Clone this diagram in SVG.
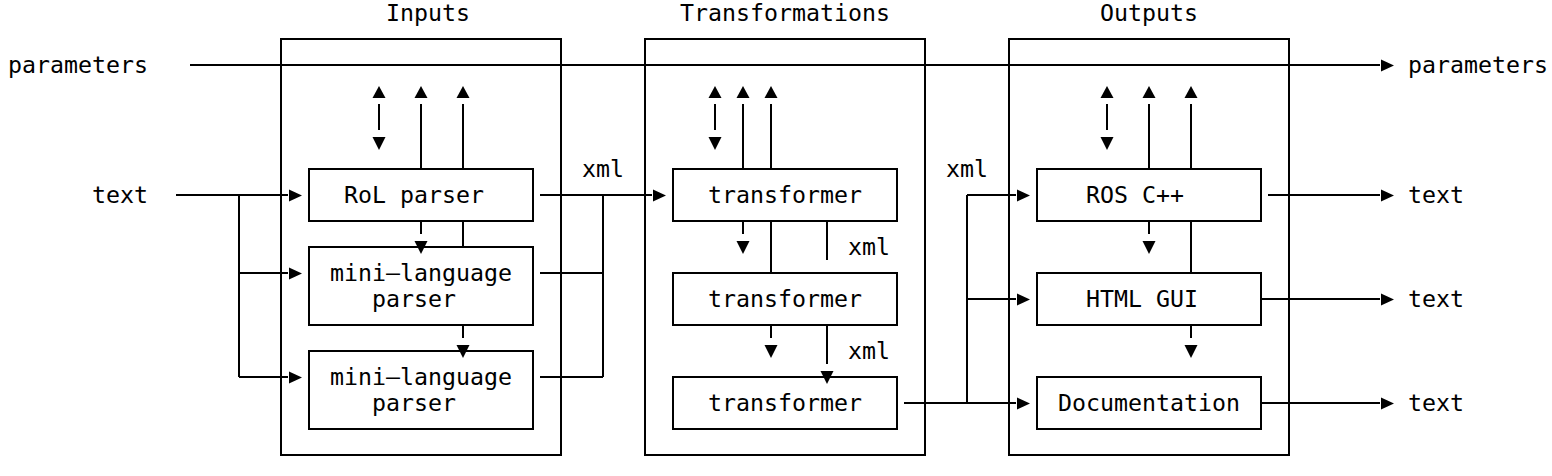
<svg xmlns="http://www.w3.org/2000/svg" xmlns:xlink="http://www.w3.org/1999/xlink" width="1552" height="476" viewBox="0 0 1552 476">
<style>
.box{fill:none;stroke:#000;stroke-width:2}
.ln{fill:none;stroke:#000;stroke-width:2}
.t{font-family:"DejaVu Sans Mono","Liberation Mono",monospace;font-size:23.25px;fill:#000}
.ah{fill:#000}
</style>
<defs>
<path id="up" class="ah" d="M0,-5 L6.5,7 L-6.5,7 Z"/>
<path id="down" class="ah" d="M-6.5,-6 L6.5,-6 L0,7 Z"/>
<path id="right" class="ah" d="M-6,-5.5 L7,0.5 L-6,6.5 Z"/>
</defs>
<rect width="1552" height="476" fill="#fff"/>

<g id="titles">
<text class="t" x="386" y="21">Inputs</text>
<text class="t" x="680" y="21">Transformations</text>
<text class="t" x="1100" y="21">Outputs</text>
</g>

<g id="labels">
<text class="t" x="8" y="73">parameters</text>
<text class="t" x="92" y="203">text</text>
<text class="t" x="582" y="177">xml</text>
<text class="t" x="946" y="177">xml</text>
<text class="t" x="848" y="255">xml</text>
<text class="t" x="848" y="359">xml</text>
<text class="t" x="1408" y="73">parameters</text>
<text class="t" x="1408" y="203">text</text>
<text class="t" x="1408" y="307">text</text>
<text class="t" x="1408" y="411">text</text>
</g>

<g id="inputs"><rect class="box" x="281" y="39" width="280" height="416"/></g>
<g id="transformations"><rect class="box" x="645" y="39" width="280" height="416"/></g>
<g id="outputs"><rect class="box" x="1009" y="39" width="280" height="416"/></g>

<g id="rol-parser"><rect class="box" x="309" y="169" width="224" height="52"/><text class="t" x="344" y="203">RoL parser</text></g>
<g id="mini-parser-1"><rect class="box" x="309" y="247" width="224" height="78"/><text class="t" x="330" y="281">mini–language</text><text class="t" x="372" y="307">parser</text></g>
<g id="mini-parser-2"><rect class="box" x="309" y="351" width="224" height="78"/><text class="t" x="330" y="385">mini–language</text><text class="t" x="372" y="411">parser</text></g>

<g id="transformer-1"><rect class="box" x="673" y="169" width="224" height="52"/><text class="t" x="708" y="203">transformer</text></g>
<g id="transformer-2"><rect class="box" x="673" y="273" width="224" height="52"/><text class="t" x="708" y="307">transformer</text></g>
<g id="transformer-3"><rect class="box" x="673" y="377" width="224" height="52"/><text class="t" x="708" y="411">transformer</text></g>

<g id="ros-cpp"><rect class="box" x="1037" y="169" width="224" height="52"/><text class="t" x="1086" y="203">ROS C++</text></g>
<g id="html-gui"><rect class="box" x="1037" y="273" width="224" height="52"/><text class="t" x="1086" y="307">HTML GUI</text></g>
<g id="documentation"><rect class="box" x="1037" y="377" width="224" height="52"/><text class="t" x="1058" y="411">Documentation</text></g>

<g id="connectors">
<!-- parameters -->
<path class="ln" d="M190,65 H1380"/>
<use xlink:href="#right" x="1387" y="65"/>
<!-- text inputs -->
<path class="ln" d="M176,195 H288 M239,195 V377 M239,273 H288 M239,377 H288"/>
<use xlink:href="#right" x="295" y="195"/>
<use xlink:href="#right" x="295" y="273"/>
<use xlink:href="#right" x="295" y="377"/>
<!-- inputs out -->
<path class="ln" d="M540,195 H652 M603,195 V377 M540,273 H603 M540,377 H603"/>
<use xlink:href="#right" x="659" y="195"/>
<!-- inputs top arrows -->
<path class="ln" d="M379,104 V130 M421,104 V169 M463,104 V169"/>
<use xlink:href="#up" x="379" y="91"/>
<use xlink:href="#down" x="379" y="143"/>
<use xlink:href="#up" x="421" y="91"/>
<use xlink:href="#up" x="463" y="91"/>
<!-- inputs internal -->
<path class="ln" d="M421,221 V234 M463,221 V247 M463,325 V338"/>
<use xlink:href="#down" x="421" y="247"/>
<use xlink:href="#down" x="463" y="351"/>
<!-- transformations top arrows -->
<path class="ln" d="M715,104 V130 M743,104 V169 M771,104 V169"/>
<use xlink:href="#up" x="715" y="91"/>
<use xlink:href="#down" x="715" y="143"/>
<use xlink:href="#up" x="743" y="91"/>
<use xlink:href="#up" x="771" y="91"/>
<!-- transformations internal -->
<path class="ln" d="M743,221 V234 M771,221 V273 M827,221 V260 M771,325 V338 M827,325 V364"/>
<use xlink:href="#down" x="743" y="247"/>
<use xlink:href="#down" x="771" y="351"/>
<use xlink:href="#down" x="827" y="377"/>
<!-- transformations out -->
<path class="ln" d="M904,403 H1016 M967,195 V403 M967,195 H1016 M967,299 H1016"/>
<use xlink:href="#right" x="1023" y="195"/>
<use xlink:href="#right" x="1023" y="299"/>
<use xlink:href="#right" x="1023" y="403"/>
<!-- outputs top arrows -->
<path class="ln" d="M1107,104 V130 M1149,104 V169 M1191,104 V169"/>
<use xlink:href="#up" x="1107" y="91"/>
<use xlink:href="#down" x="1107" y="143"/>
<use xlink:href="#up" x="1149" y="91"/>
<use xlink:href="#up" x="1191" y="91"/>
<!-- outputs internal -->
<path class="ln" d="M1149,221 V234 M1191,221 V273 M1191,325 V338"/>
<use xlink:href="#down" x="1149" y="247"/>
<use xlink:href="#down" x="1191" y="351"/>
<!-- outputs out -->
<path class="ln" d="M1268,195 H1380 M1261,299 H1380 M1261,403 H1380"/>
<use xlink:href="#right" x="1387" y="195"/>
<use xlink:href="#right" x="1387" y="299"/>
<use xlink:href="#right" x="1387" y="403"/>
</g>
</svg>
